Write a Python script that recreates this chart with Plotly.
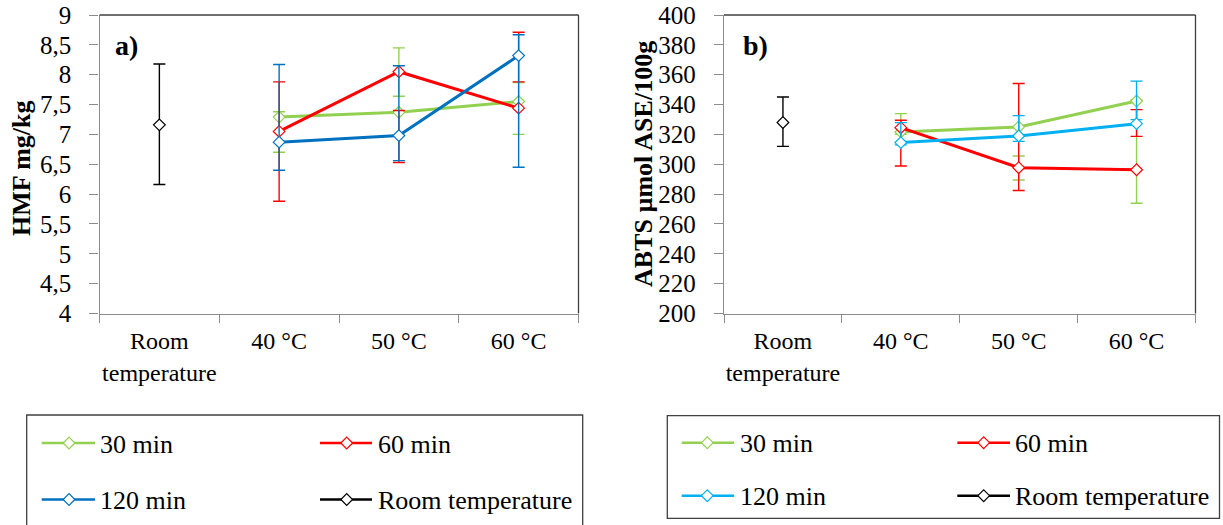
import plotly.graph_objects as go

W, H = 1223, 525
OX, OY = 0, 0          # page body margin removed below (post_script)
FONT = "Liberation Serif"

# ---------------- data ----------------
categories = ["Room<br>temperature", "40 °C", "50 °C", "60 °C"]
room_cat = ["Room<br>temperature"]
temp_cats = ["40 °C", "50 °C", "60 °C"]
series_names = ["30 min", "60 min", "120 min", "Room temperature"]

# a) HMF mg/kg  (point value, upper bar end, lower bar end)
hmf_30 = [7.29, 7.37, 7.55]
hmf_30_hi = [7.38, 8.45, 7.87]
hmf_30_lo = [6.70, 7.64, 7.00]
hmf_60 = [7.05, 8.05, 7.44]
hmf_60_hi = [7.88, 7.40, 8.71]
hmf_60_lo = [5.88, 6.53, 7.88]
hmf_120 = [6.87, 6.98, 8.32]
hmf_120_hi = [8.17, 8.15, 8.67]
hmf_120_lo = [6.40, 6.56, 6.45]
hmf_room = [7.16]
hmf_room_hi = [8.18]
hmf_room_lo = [6.16]

# b) ABTS µmol ASE/100g
abts_30 = [321.6, 325.0, 342.4]
abts_30_hi = [333.9, 305.5, 343.0]
abts_30_lo = [320.0, 289.4, 273.9]
abts_60 = [324.5, 297.7, 296.3]
abts_60_hi = [329.5, 354.1, 336.6]
abts_60_lo = [298.8, 282.4, 318.7]
abts_120 = [314.5, 318.9, 327.2]
abts_120_hi = [327.9, 332.6, 355.7]
abts_120_lo = [313.0, 315.3, 329.9]
abts_room = [328.0]
abts_room_hi = [345.1]
abts_room_lo = [312.0]

# ---------------- styles ----------------
GREEN = "#92D050"
RED = "#FF0000"
BLUE_A = "#0070C0"
BLUE_B = "#00B0F0"
BLACK = "#000000"
AXIS_GRAY = "#8c8c8c"
BORDER = "#404040"


def fx(px):
    return (px - OX) / W


def fy(py):
    return 1 - (py - OY) / H


# plot areas in screen pixels
A_L, A_R = 99.5, 578.5
B_L, B_R = 724, 1195.5
P_T, P_B = 15, 313.5

fig = go.Figure()


def add_series(xs, vals, his, los, color, xa, ya, lines=True):
    fig.add_trace(go.Scatter(
        x=xs, y=vals, xaxis=xa, yaxis=ya,
        mode="lines+markers" if lines else "markers",
        line=dict(color=color, width=3),
        marker=dict(symbol="diamond", size=9, color="white",
                    line=dict(color=color, width=1.2)),
        error_y=dict(type="data", symmetric=False,
                     array=[h - v for h, v in zip(his, vals)],
                     arrayminus=[v - l for v, l in zip(vals, los)],
                     color=color, thickness=1.4, width=6),
        showlegend=False, hoverinfo="x+y",
    ))


# panel a
add_series(temp_cats, hmf_30, hmf_30_hi, hmf_30_lo, GREEN, "x", "y")
add_series(temp_cats, hmf_60, hmf_60_hi, hmf_60_lo, RED, "x", "y")
add_series(temp_cats, hmf_120, hmf_120_hi, hmf_120_lo, BLUE_A, "x", "y")
add_series(room_cat, hmf_room, hmf_room_hi, hmf_room_lo, BLACK, "x", "y", lines=False)
# panel b
add_series(temp_cats, abts_30, abts_30_hi, abts_30_lo, GREEN, "x2", "y2")
add_series(temp_cats, abts_60, abts_60_hi, abts_60_lo, RED, "x2", "y2")
add_series(temp_cats, abts_120, abts_120_hi, abts_120_lo, BLUE_B, "x2", "y2")
add_series(room_cat, abts_room, abts_room_hi, abts_room_lo, BLACK, "x2", "y2", lines=False)

# ---------------- legends (drawn on a pixel overlay axis) ----------------
shapes = []
annotations = []

legend_specs = [
    dict(box=(26.7, 415, 582.7, 545),
         cols=[(41.7, 69, 95, 99.3), (320, 346.7, 372, 377.3)],
         rows=[443, 499.5],
         colors=[GREEN, RED, BLUE_A, BLACK]),
    dict(box=(667.3, 415.7, 1219.5, 518.3),
         cols=[(681.7, 707.3, 734, 739.3), (957.3, 983.7, 1010, 1014.7)],
         rows=[442.7, 495.7],
         colors=[GREEN, RED, BLUE_B, BLACK]),
]

for spec in legend_specs:
    x0, y0, x1, y1 = spec["box"]
    shapes.append(dict(type="rect", xref="paper", yref="paper",
                       x0=fx(x0), x1=fx(x1), y0=fy(y0), y1=fy(y1),
                       line=dict(color=BORDER, width=1.3), fillcolor="rgba(0,0,0,0)"))
    for i, name in enumerate(series_names):
        c0, cm, c1, ct = spec["cols"][i % 2]
        ry = spec["rows"][i // 2]
        color = spec["colors"][i]
        fig.add_trace(go.Scatter(
            x=[c0, c1], y=[ry, ry], xaxis="x3", yaxis="y3", mode="lines",
            line=dict(color=color, width=2.5), showlegend=False, hoverinfo="skip"))
        fig.add_trace(go.Scatter(
            x=[cm], y=[ry], xaxis="x3", yaxis="y3", mode="markers",
            marker=dict(symbol="diamond", size=9, color="white",
                        line=dict(color=color, width=1.2)),
            showlegend=False, hoverinfo="skip"))
        annotations.append(dict(text=name, xref="paper", yref="paper",
                                x=fx(ct - 1.5), y=fy(ry + 1), xanchor="left", yanchor="middle",
                                showarrow=False, font=dict(family=FONT, size=26, color="black")))

# plot borders (top & right), darker than axes
for (l, r) in [(A_L, A_R), (B_L, B_R)]:
    shapes.append(dict(type="line", xref="paper", yref="paper",
                       x0=fx(l), x1=fx(r), y0=fy(P_T), y1=fy(P_T),
                       line=dict(color=BORDER, width=1.3)))
    shapes.append(dict(type="line", xref="paper", yref="paper",
                       x0=fx(r), x1=fx(r), y0=fy(P_T), y1=fy(P_B),
                       line=dict(color=BORDER, width=1.3)))

# panel labels
annotations.append(dict(text="a)", xref="paper", yref="paper", x=fx(113), y=fy(46),
                        xanchor="left", yanchor="middle", showarrow=False,
                        font=dict(family=FONT, size=28, color="black", weight="bold")))
annotations.append(dict(text="b)", xref="paper", yref="paper", x=fx(741), y=fy(45),
                        xanchor="left", yanchor="middle", showarrow=False,
                        font=dict(family=FONT, size=28, color="black", weight="bold")))

# y-axis titles
annotations.append(dict(text="HMF mg/kg", xref="paper", yref="paper", x=fx(21), y=fy(168),
                        xanchor="center", yanchor="middle", textangle=-90, showarrow=False,
                        font=dict(family=FONT, size=26, color="black", weight="bold")))
annotations.append(dict(text="ABTS µmol ASE/100g", xref="paper", yref="paper", x=fx(643), y=fy(164),
                        xanchor="center", yanchor="middle", textangle=-90, showarrow=False,
                        font=dict(family=FONT, size=26, color="black", weight="bold")))

xaxis_common = dict(type="category", categoryorder="array", categoryarray=categories,
                    range=[-0.5, 3.5], tickson="boundaries", ticks="outside", ticklen=8,
                    tickangle=0, tickcolor=AXIS_GRAY, tickwidth=1.3, showline=True,
                    linecolor=AXIS_GRAY, linewidth=1.3, showgrid=False, zeroline=False,
                    automargin=False, ticklabelstandoff=6, ticklabeloverflow="allow",
                    tickfont=dict(family=FONT, size=24, color="black"))
yaxis_common = dict(ticks="outside", ticklen=9, tickcolor=AXIS_GRAY, tickwidth=1.3,
                    showline=True, linecolor=AXIS_GRAY, linewidth=1.3, showgrid=False,
                    zeroline=False, automargin=False, ticklabelstandoff=13,
                    ticklabeloverflow="allow",
                    tickfont=dict(family=FONT, size=25, color="black"))
# inner halves of the crossing tick marks
x_inner = dict(range=[-0.5, 3.5], tickmode="array", tickvals=[-0.5, 0.5, 1.5, 2.5, 3.5],
               ticks="inside", ticklen=8, tickcolor=AXIS_GRAY, tickwidth=1.3,
               showticklabels=False, showline=False, showgrid=False, zeroline=False,
               side="bottom", automargin=False)
y_inner = dict(ticks="inside", ticklen=8, tickcolor=AXIS_GRAY, tickwidth=1.3,
               showticklabels=False, showline=False, showgrid=False, zeroline=False,
               side="left", automargin=False)

fig.update_layout(
    width=W, height=H,
    margin=dict(l=0, r=0, t=0, b=0),
    paper_bgcolor="white", plot_bgcolor="rgba(0,0,0,0)",
    separators=", ",
    showlegend=False,
    font=dict(family=FONT, color="black"),
    xaxis=dict(domain=[fx(A_L), fx(A_R)], anchor="y", **xaxis_common),
    yaxis=dict(domain=[fy(P_B), fy(P_T)], anchor="x", range=[4, 9], dtick=0.5, tick0=4,
               **yaxis_common),
    xaxis2=dict(domain=[fx(B_L), fx(B_R)], anchor="y2", **xaxis_common),
    yaxis2=dict(domain=[fy(P_B), fy(P_T)], anchor="x2", range=[200, 400], dtick=20, tick0=200,
                **yaxis_common),
    xaxis3=dict(domain=[0, 1], anchor="y3", range=[OX, W + OX], visible=False, fixedrange=True),
    yaxis3=dict(domain=[0, 1], anchor="x3", range=[H + OY, OY], visible=False, fixedrange=True),
    xaxis4=dict(overlaying="x", anchor="y", **x_inner),
    yaxis4=dict(overlaying="y", anchor="x", range=[4, 9], dtick=0.5, tick0=4, **y_inner),
    xaxis5=dict(overlaying="x2", anchor="y2", **x_inner),
    yaxis5=dict(overlaying="y2", anchor="x2", range=[200, 400], dtick=20, tick0=200, **y_inner),
    shapes=shapes,
    annotations=annotations,
)

fig.write_html("out.html",
               config={"displayModeBar": False},
               post_script="document.body.style.margin='0px';document.body.style.overflow='hidden';")
